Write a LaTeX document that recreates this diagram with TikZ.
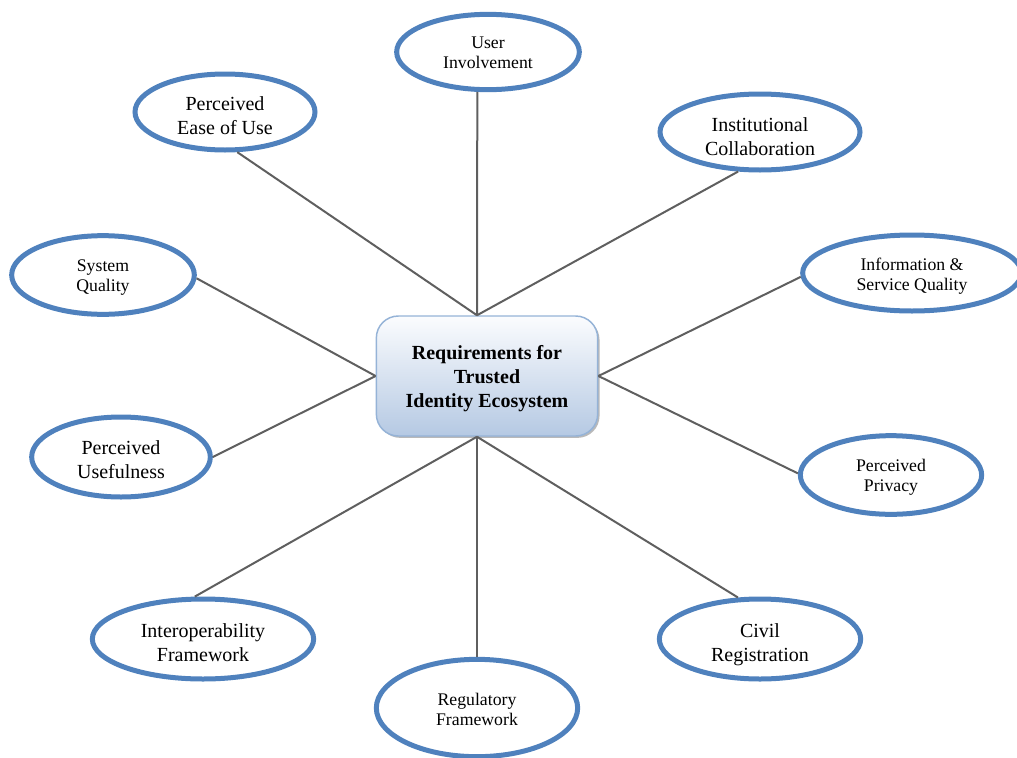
\documentclass[tikz,border=0pt]{standalone}
\usepackage{fontspec}
\setmainfont{Liberation Serif}
\usetikzlibrary{shapes.geometric,shadows}

\definecolor{ringblue}{HTML}{4F81BD}
\definecolor{linkgray}{HTML}{5F5F5F}
\definecolor{boxedge}{HTML}{95B3D7}
\definecolor{boxtop}{HTML}{FBFCFE}
\definecolor{boxbottom}{HTML}{B5C9E3}

% lower a line of text inside its node without changing the node's size
\newcommand\lowered[2]{\raisebox{-#1}[\height][\depth]{#2}}

\tikzset{
  factor/.style={ellipse, draw=ringblue, line width=3.75pt, fill=white,
    inner sep=0pt, align=center, text=black},
  smalltext/.style={font=\fontsize{13.3}{15}\selectfont},
  largetext/.style={font=\fontsize{15}{18}\selectfont},
  corebox/.style={rectangle, rounded corners=16.5pt, draw=boxedge,
    line width=1.1pt, top color=boxtop, bottom color=boxbottom,
    minimum width=166pt, minimum height=90pt, align=center,
    font=\bfseries\fontsize{15}{18}\selectfont,
    drop shadow={shadow xshift=1.4pt, shadow yshift=-1.4pt,
      fill=gray!55, opacity=1}},
  link/.style={draw=linkgray, line width=1.5pt}
}

\begin{document}
\begin{tikzpicture}[x=0.75pt, y=-0.75pt]
  \useasboundingbox (0,0) rectangle (1017,757);
  \clip (0,0) rectangle (1017,757);

  % central requirement box
  \node[corebox] (core) at (487,376)
    {\lowered{1.9pt}{Requirements for}\\\lowered{1.9pt}{Trusted}\\\lowered{1.9pt}{Identity Ecosystem}};
  \coordinate (coretop) at ([xshift=-7.5pt]core.north);
  \coordinate (corebot) at ([xshift=-7.5pt]core.south);

  % surrounding factors
  \node[factor, smalltext, minimum width=137pt, minimum height=56.5pt] (ui) at (488,52)
    {\lowered{0.75pt}{User}\\\lowered{0.75pt}{Involvement}};
  \node[factor, largetext, minimum width=135pt, minimum height=57pt] (pe) at (225,112)
    {\lowered{2.6pt}{Perceived}\\\lowered{2.6pt}{Ease of Use}};
  \node[factor, largetext, minimum width=150pt, minimum height=57pt] (ic) at (760,132)
    {\lowered{3.4pt}{Institutional}\\\lowered{3.4pt}{Collaboration}};
  \node[factor, smalltext, minimum width=137pt, minimum height=59pt] (sq) at (103,275)
    {\lowered{1.9pt}{System}\\\lowered{1.9pt}{Quality}};
  \node[factor, smalltext, minimum width=164pt, minimum height=57pt] (isq) at (912,273)
    {\lowered{2.6pt}{Information \&}\\\lowered{2.6pt}{Service Quality}};
  \node[factor, largetext, minimum width=134pt, minimum height=60pt] (pu) at (121,457)
    {\lowered{2.25pt}{Perceived}\\\lowered{2.25pt}{Usefulness}};
  \node[factor, smalltext, minimum width=136pt, minimum height=59pt] (pp) at (891,475)
    {\lowered{1.9pt}{Perceived}\\\lowered{1.9pt}{Privacy}};
  \node[factor, largetext, minimum width=166pt, minimum height=60pt] (if) at (203,639)
    {\lowered{3pt}{Interoperability}\\\lowered{3pt}{Framework}};
  \node[factor, largetext, minimum width=151pt, minimum height=60pt] (cr) at (760,639)
    {\lowered{4.5pt}{Civil}\\\lowered{4.5pt}{Registration}};
  \node[factor, smalltext, minimum width=151pt, minimum height=73pt] (rf) at (477,708)
    {\lowered{1.1pt}{Regulatory}\\\lowered{1.1pt}{Framework}};

  % connectors from the central box to each factor
  \draw[link] (coretop) -- (ui.-105);
  \draw[link] (coretop) -- (pe.-73);
  \draw[link] (coretop) -- (ic.-119);
  \draw[link] (core.west) -- (sq.-2);
  \draw[link] (core.west) -- (pu.0);
  \draw[link] (core.east) -- (isq.182);
  \draw[link] (core.east) -- (pp.179);
  \draw[link] (corebot) -- (if.101);
  \draw[link] (corebot) -- (rf.north);
  \draw[link] (corebot) -- (cr.118);
\end{tikzpicture}
\end{document}
